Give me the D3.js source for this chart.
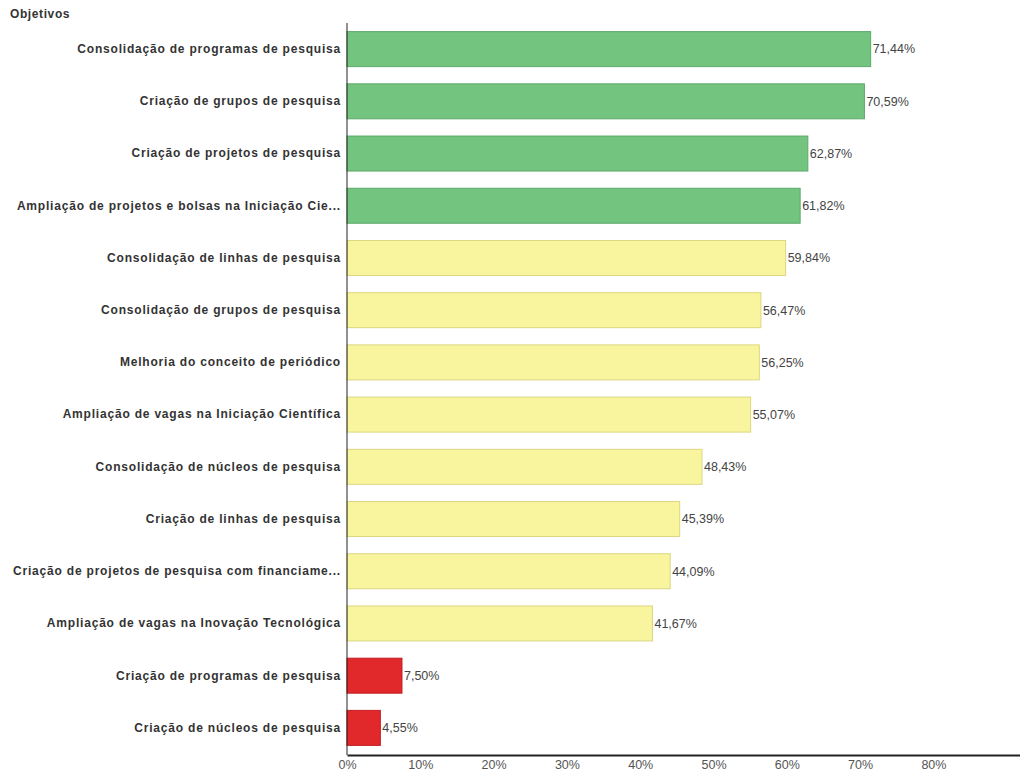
<!DOCTYPE html>
<html>
<head>
<meta charset="utf-8">
<script src="https://cdn.jsdelivr.net/npm/d3@7"></script>
<style>
  html, body { margin: 0; padding: 0; background: #fff; }
  svg { display: block; }
</style>
</head>
<body>
<svg id="chart" width="1020" height="776"></svg>
<script>
// Objetivos e percentuais de alcance
const categories = [
  "Consolidação de programas de pesquisa",
  "Criação de grupos de pesquisa",
  "Criação de projetos de pesquisa",
  "Ampliação de projetos e bolsas na Iniciação Cie...",
  "Consolidação de linhas de pesquisa",
  "Consolidação de grupos de pesquisa",
  "Melhoria do conceito de periódico",
  "Ampliação de vagas na Iniciação Científica",
  "Consolidação de núcleos de pesquisa",
  "Criação de linhas de pesquisa",
  "Criação de projetos de pesquisa com financiame...",
  "Ampliação de vagas na Inovação Tecnológica",
  "Criação de programas de pesquisa",
  "Criação de núcleos de pesquisa"
];
const values = [71.44, 70.59, 62.87, 61.82, 59.84, 56.47, 56.25, 55.07, 48.43, 45.39, 44.09, 41.67, 7.50, 4.55];
const levels = ["alto", "alto", "alto", "alto", "medio", "medio", "medio", "medio", "medio", "medio", "medio", "medio", "baixo", "baixo"];
const tickValues = [0, 10, 20, 30, 40, 50, 60, 70, 80];

const fills = { alto: "#72c47e", medio: "#f9f49e", baixo: "#e1282b" };
const strokes = { alto: "#5ea86a", medio: "#dcd680", baixo: "#c21e22" };

const svg = d3.select("#chart");
const mLeft = 347, mTop = 23, mBottom = 755, mRight = 1020;

const x = d3.scaleLinear().domain([0, (mRight - mLeft) / 7.33]).range([mLeft, mRight]);
const y = d3.scaleBand().domain(categories).range([mTop, 754]).paddingInner(0.33).paddingOuter(0.165);

const fmt = v => d3.format(".2f")(v).replace(".", ",") + "%";

// Barras
svg.append("g").selectAll("rect")
  .data(values)
  .join("rect")
  .attr("x", x(0))
  .attr("y", (d, i) => y(categories[i]))
  .attr("width", d => x(d) - x(0))
  .attr("height", y.bandwidth())
  .attr("fill", (d, i) => fills[levels[i]])
  .attr("stroke", (d, i) => strokes[levels[i]])
  .attr("stroke-width", 1);

// Rótulos de valor
svg.append("g").selectAll("text")
  .data(values)
  .join("text")
  .attr("x", d => x(d) + 2)
  .attr("y", (d, i) => y(categories[i]) + y.bandwidth() / 2)
  .attr("dy", "0.35em")
  .attr("font-family", "Liberation Sans, Arial, sans-serif")
  .attr("font-size", 12.5)
  .attr("fill", "#444")
  .text(fmt);

// Eixo vertical com categorias
const yAxis = svg.append("g")
  .attr("transform", `translate(${mLeft},0)`)
  .call(d3.axisLeft(y).tickSize(0).tickPadding(6));
yAxis.select(".domain").remove();
yAxis.selectAll("text")
  .attr("font-family", "Liberation Sans, Arial, sans-serif")
  .attr("font-size", 12)
  .attr("font-weight", "bold")
  .attr("letter-spacing", "0.8px")
  .attr("fill", "#333");
svg.append("line")
  .attr("x1", mLeft).attr("x2", mLeft)
  .attr("y1", mTop).attr("y2", mBottom)
  .attr("stroke", "#222").attr("stroke-width", 1);

// Eixo horizontal
const xAxis = svg.append("g")
  .attr("transform", `translate(0,${mBottom})`)
  .call(d3.axisBottom(x).tickValues(tickValues).tickSize(0).tickPadding(5).tickFormat(d => d + "%"));
xAxis.select(".domain").attr("stroke", "#222").attr("stroke-width", 2);
xAxis.selectAll("text")
  .attr("font-family", "Liberation Sans, Arial, sans-serif")
  .attr("font-size", 12.5)
  .attr("fill", "#555");

// Título do eixo
svg.append("text")
  .attr("x", 10).attr("y", 18)
  .attr("font-family", "Liberation Sans, Arial, sans-serif")
  .attr("font-size", 12)
  .attr("font-weight", "bold")
  .attr("letter-spacing", "0.6px")
  .attr("fill", "#333")
  .text("Objetivos");
</script>
</body>
</html>
